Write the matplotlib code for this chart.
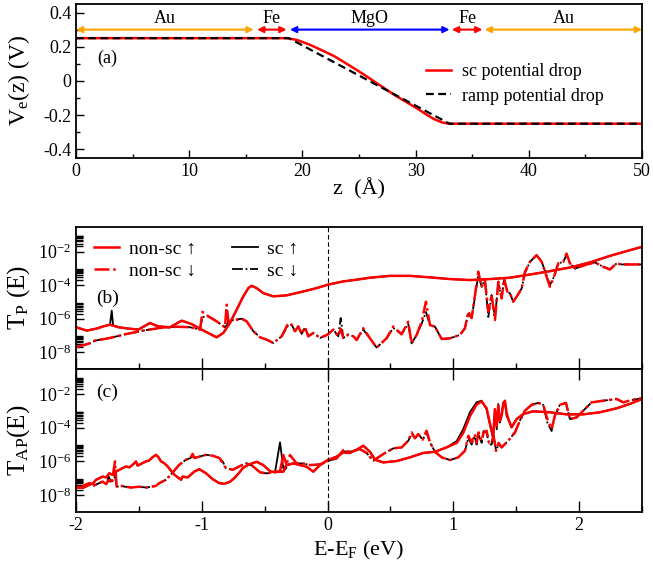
import numpy as np
import matplotlib
matplotlib.use("Agg")
import matplotlib.pyplot as plt
from matplotlib.ticker import FixedLocator, FuncFormatter, MultipleLocator

plt.rcParams['font.family'] = ['Liberation Serif', 'DejaVu Sans']
plt.rcParams['mathtext.fontset'] = 'custom'
plt.rcParams['mathtext.rm'] = 'Liberation Serif'
plt.rcParams['mathtext.it'] = 'Liberation Serif:italic'
plt.rcParams['axes.unicode_minus'] = False

# ---- panel (a): potential profile ----
z_sc = [0, 18.6, 19.5, 20.6, 21.7, 22.8, 23.8, 24.7, 25.6, 26.5, 27.4, 28.3,
        29.3, 30.2, 31.0, 31.6, 32.3, 32.9, 33.5, 50]
v_sc = [0.25, 0.25, 0.24, 0.213, 0.18, 0.145, 0.105, 0.068, 0.03, -0.01, -0.05,
        -0.089, -0.128, -0.164, -0.198, -0.222, -0.242, -0.25, -0.25, -0.25]
z_ramp = [0, 18.8, 33.0, 50]
v_ramp = [0.25, 0.25, -0.25, -0.25]

layer_names = ['Au', 'Fe', 'MgO', 'Fe', 'Au']
layer_start = [0.0, 16.0, 18.9, 33.2, 36.1]
layer_end = [15.7, 18.6, 33.0, 35.9, 50.0]
layer_colors = ['orange', 'red', 'blue', 'red', 'orange']

# ---- panel (b): T_P(E), log10 values ----
tp_up_e = [-2.00, -1.915, -1.836, -1.783, -1.730, -1.663, -1.584, -1.504, -1.412, -1.346,
           -1.253, -1.160, -1.081, -1.001, -0.935, -0.882, -0.829, -0.776, -0.723, -0.670,
           -0.630, -0.604, -0.564, -0.511, -0.431, -0.325, -0.193, -0.087, 0.000, 0.125,
           0.258, 0.337, 0.496, 0.655, 0.814, 0.973, 1.132, 1.291, 1.450, 1.609,
           1.768, 1.927, 2.086, 2.245, 2.404, 2.50]
tp_up_nsc = [-6.51, -6.71, -6.59, -6.46, -6.36, -6.51, -6.59, -6.65, -6.26, -6.46,
             -6.51, -6.12, -6.32, -6.65, -6.91, -7.11, -6.85, -6.26, -5.47, -4.67,
             -4.18, -4.04, -4.18, -4.48, -4.67, -4.61, -4.38, -4.18, -3.98, -3.78,
             -3.65, -3.56, -3.45, -3.45, -3.54, -3.64, -3.70, -3.64, -3.56, -3.37,
             -3.17, -2.95, -2.65, -2.26, -1.92, -1.72]
tp_up_sc_e = [-2.00, -1.915, -1.836, -1.783, -1.730, -1.716, -1.705, -1.663, -1.584, -1.504,
              -1.412, -1.346, -1.253, -1.160, -1.081, -1.001, -0.935, -0.882, -0.829, -0.776,
              -0.723, -0.670, -0.630, -0.604, -0.564, -0.511, -0.431, -0.325, -0.193, -0.087,
              0.000, 0.125, 0.258, 0.337, 0.496, 0.655, 0.814, 0.973, 1.132, 1.291,
              1.450, 1.609, 1.768, 1.927, 2.086, 2.245, 2.404, 2.50]
tp_up_sc = [-6.51, -6.71, -6.59, -6.46, -6.36, -5.52, -6.40, -6.51, -6.59, -6.65,
            -6.26, -6.46, -6.51, -6.12, -6.32, -6.65, -6.91, -7.11, -6.85, -6.26,
            -5.47, -4.67, -4.18, -4.04, -4.18, -4.48, -4.67, -4.61, -4.38, -4.18,
            -3.98, -3.78, -3.65, -3.56, -3.45, -3.45, -3.54, -3.64, -3.70, -3.64,
            -3.56, -3.37, -3.17, -2.95, -2.65, -2.26, -1.92, -1.72]

tp_dn_e = [-2.000, -1.902, -1.849, -1.730, -1.597, -1.465, -1.332, -1.200, -1.094, -1.014,
           -0.995, -0.948, -0.882, -0.816, -0.802, -0.789, -0.763, -0.723, -0.683, -0.643,
           -0.590, -0.537, -0.484, -0.431, -0.365, -0.312, -0.286, -0.259, -0.233, -0.206,
           -0.180, -0.153, -0.113, -0.060, 0.000, 0.046, 0.085, 0.104, 0.125, 0.165,
           0.205, 0.231, 0.284, 0.337, 0.390, 0.469, 0.522, 0.588, 0.641, 0.668,
           0.708, 0.748, 0.782, 0.814, 0.854, 0.907, 0.973, 1.052, 1.092, 1.119,
           1.145, 1.172, 1.198, 1.225, 1.251, 1.278, 1.304, 1.331, 1.357, 1.384,
           1.403, 1.429, 1.450, 1.476, 1.503, 1.543, 1.569, 1.609, 1.662, 1.702,
           1.741, 1.768, 1.800, 1.834, 1.874, 1.900, 1.927, 1.967, 2.007, 2.060,
           2.126, 2.192, 2.245, 2.298, 2.338, 2.417, 2.500]
tp_dn_nsc = [-7.70, -7.50, -7.31, -7.15, -6.91, -6.71, -6.55, -6.48, -6.51, -6.65,
             -5.60, -5.86, -6.16, -6.51, -5.17, -6.16, -6.10, -6.06, -6.00, -6.16,
             -6.75, -7.11, -7.25, -7.45, -7.05, -6.26, -6.36, -6.75, -6.46, -6.91,
             -6.51, -7.05, -6.85, -7.15, -6.95, -6.65, -7.05, -6.60, -7.15, -6.95,
             -7.05, -7.27, -6.57, -7.17, -7.72, -7.17, -6.47, -6.93, -6.18, -7.47,
             -6.97, -6.18, -4.99, -6.38, -6.48, -7.21, -7.17, -6.97, -6.57, -5.58,
             -5.97, -4.59, -3.20, -4.09, -3.70, -5.58, -4.59, -6.08, -3.80, -4.79,
             -3.60, -4.39, -4.49, -4.99, -4.69, -4.20, -3.20, -2.61, -2.22, -2.61,
             -3.50, -4.10, -3.50, -2.71, -2.61, -2.12, -2.71, -3.01, -2.91, -2.77,
             -2.65, -2.91, -3.07, -2.71, -2.77, -2.77, -2.77]
tp_dn_sc = [-7.70, -7.50, -7.31, -7.15, -6.91, -6.71, -6.55, -6.48, -6.51, -6.65,
            -5.90, -5.86, -6.16, -6.51, -6.40, -6.16, -6.10, -6.06, -6.00, -6.16,
            -6.75, -7.11, -7.25, -7.45, -7.05, -6.40, -6.36, -6.75, -6.46, -6.91,
            -6.51, -7.05, -6.85, -7.15, -6.95, -6.65, -7.05, -5.96, -7.15, -6.95,
            -7.05, -7.27, -6.65, -7.17, -7.72, -7.17, -6.55, -6.93, -6.30, -7.47,
            -6.97, -6.30, -5.60, -6.38, -6.48, -7.21, -7.17, -6.97, -6.57, -5.70,
            -5.97, -4.70, -3.40, -4.09, -3.70, -5.90, -4.59, -5.90, -3.90, -4.79,
            -3.70, -4.39, -4.49, -4.99, -4.69, -4.20, -3.30, -2.61, -2.22, -2.61,
            -3.40, -4.00, -3.50, -2.71, -2.61, -2.20, -2.71, -3.01, -2.91, -2.77,
            -2.65, -2.91, -3.07, -2.71, -2.77, -2.77, -2.77]

# ---- panel (c): T_AP(E), log10 values ----
tap_up_e = [-2.000, -1.960, -1.930, -1.894, -1.870, -1.841, -1.815, -1.788, -1.760, -1.735,
            -1.710, -1.687, -1.680, -1.656, -1.630, -1.603, -1.575, -1.550, -1.523, -1.510,
            -1.497, -1.470, -1.444, -1.420, -1.391, -1.364, -1.345, -1.324, -1.300, -1.271,
            -1.245, -1.218, -1.190, -1.165, -1.152, -1.112, -1.059, -1.020, -0.967, -0.914,
            -0.861, -0.821, -0.775, -0.741, -0.700, -0.675, -0.630, -0.596, -0.564, -0.511,
            -0.458, -0.418, -0.378, -0.352, -0.325, -0.272, -0.219, -0.166, -0.113, -0.060,
            0.000, 0.072, 0.125, 0.178, 0.231, 0.284, 0.337, 0.377, 0.443, 0.549,
            0.655, 0.761, 0.854, 0.946, 1.026, 1.078, 1.131, 1.184, 1.224, 1.264,
            1.290, 1.317, 1.330, 1.345, 1.357, 1.370, 1.384, 1.397, 1.410, 1.423,
            1.437, 1.463, 1.503, 1.556, 1.635, 1.768, 1.900, 2.033, 2.165, 2.298,
            2.404, 2.500]
tap_up_nsc = [-7.50, -7.55, -7.40, -7.29, -7.35, -7.09, -7.00, -6.90, -6.95, -6.70,
              -6.80, -6.55, -6.60, -6.50, -6.40, -6.30, -6.35, -6.20, -6.00, -6.25,
              -6.20, -6.10, -6.00, -5.95, -5.75, -5.61, -5.75, -6.00, -6.10, -6.30,
              -6.55, -6.79, -6.95, -7.09, -6.90, -6.95, -6.60, -6.46, -6.70, -7.05,
              -7.29, -7.33, -7.20, -6.99, -6.65, -6.40, -6.20, -6.11, -6.02, -6.22,
              -6.57, -6.65, -6.57, -5.62, -6.22, -6.12, -6.22, -6.32, -6.61, -6.22,
              -5.92, -5.72, -5.47, -5.50, -5.31, -5.07, -5.43, -5.90, -6.06, -5.98,
              -5.76, -5.50, -5.43, -5.17, -4.91, -4.32, -3.33, -2.64, -2.44, -2.84,
              -3.72, -4.51, -2.90, -3.90, -2.69, -3.60, -3.29, -2.60, -2.40, -3.10,
              -3.49, -3.98, -3.49, -3.19, -3.03, -3.09, -3.21, -3.21, -3.09, -2.85,
              -2.59, -2.30]
tap_up_sc = [-7.50, -7.55, -7.40, -7.29, -7.35, -7.09, -7.00, -6.90, -6.95, -6.70,
             -6.80, -6.70, -6.60, -6.50, -6.40, -6.30, -6.35, -6.20, -6.05, -6.25,
             -6.20, -6.10, -6.00, -5.95, -5.75, -5.61, -5.75, -6.00, -6.10, -6.30,
             -6.55, -6.79, -6.95, -7.09, -6.90, -6.95, -6.60, -6.46, -6.70, -7.05,
             -7.29, -7.33, -7.20, -6.99, -6.65, -6.40, -6.20, -6.11, -6.02, -6.22,
             -6.57, -6.65, -4.87, -6.40, -6.22, -6.12, -6.22, -6.32, -6.61, -6.22,
             -5.92, -5.72, -5.47, -5.50, -5.31, -5.07, -5.43, -5.90, -6.06, -5.98,
             -5.76, -5.50, -5.43, -5.17, -4.80, -4.10, -3.10, -2.50, -2.40, -2.90,
             -3.80, -4.70, -3.00, -4.10, -2.60, -3.70, -3.20, -2.50, -2.45, -3.30,
             -3.49, -3.98, -3.49, -3.19, -3.03, -3.09, -3.21, -3.21, -3.09, -2.85,
             -2.59, -2.30]

tap_dn_e = [-2.000, -1.942, -1.894, -1.862, -1.820, -1.788, -1.760, -1.740, -1.717, -1.690,
            -1.677, -1.640, -1.610, -1.560, -1.500, -1.440, -1.400, -1.364, -1.338, -1.285,
            -1.232, -1.179, -1.126, -1.090, -1.073, -1.059, -0.967, -0.914, -0.860, -0.834,
            -0.808, -0.755, -0.702, -0.649, -0.600, -0.537, -0.484, -0.418, -0.352, -0.299,
            -0.246, -0.193, -0.140, -0.060, 0.000, 0.072, 0.125, 0.178, 0.257, 0.310,
            0.363, 0.443, 0.522, 0.589, 0.642, 0.668, 0.695, 0.721, 0.756, 0.787,
            0.814, 0.854, 0.907, 0.973, 1.039, 1.092, 1.119, 1.145, 1.170, 1.185,
            1.200, 1.225, 1.240, 1.264, 1.285, 1.304, 1.320, 1.339, 1.360, 1.384,
            1.437, 1.490, 1.529, 1.569, 1.622, 1.675, 1.715, 1.747, 1.781, 1.807,
            1.847, 1.895, 1.927, 1.980, 2.033, 2.099, 2.192, 2.298, 2.351, 2.417,
            2.500]
tap_dn_nsc = [-7.55, -7.56, -7.39, -7.45, -7.30, -7.20, -7.35, -7.10, -7.30, -6.00,
              -7.50, -7.45, -7.50, -7.55, -7.50, -7.55, -7.50, -7.45, -7.29, -7.09,
              -6.66, -6.20, -5.90, -5.80, -5.55, -5.80, -5.61, -5.66, -5.80, -6.11,
              -6.40, -6.50, -6.30, -6.11, -6.25, -6.65, -6.71, -6.61, -6.61, -5.62,
              -6.12, -6.12, -6.22, -6.18, -5.98, -5.82, -5.33, -5.43, -5.27, -5.50,
              -5.96, -5.56, -5.23, -5.17, -4.77, -4.28, -4.63, -4.38, -4.71, -4.18,
              -4.87, -5.43, -5.76, -5.92, -5.76, -5.37, -4.48, -4.87, -4.40, -4.90,
              -4.28, -4.77, -4.30, -4.18, -4.90, -4.87, -4.50, -5.37, -4.90, -5.17,
              -4.77, -4.28, -3.58, -2.99, -2.65, -2.53, -2.65, -3.49, -4.08, -3.29,
              -2.65, -2.53, -3.49, -3.39, -2.99, -2.50, -2.40, -2.30, -2.50, -2.36,
              -2.26]
tap_dn_sc = [-7.55, -7.56, -7.39, -7.45, -7.30, -7.20, -7.35, -6.90, -7.30, -6.85,
             -7.50, -7.45, -7.50, -7.55, -7.50, -7.55, -7.50, -7.45, -7.29, -7.09,
             -6.66, -6.20, -5.90, -5.80, -5.70, -5.80, -5.61, -5.66, -5.80, -6.00,
             -6.40, -6.50, -6.30, -6.11, -6.25, -6.65, -6.71, -6.61, -6.61, -6.10,
             -6.12, -6.12, -6.22, -6.18, -5.98, -5.82, -5.40, -5.43, -5.27, -5.50,
             -5.96, -5.56, -5.23, -5.17, -4.77, -4.40, -4.63, -4.38, -4.71, -4.30,
             -4.87, -5.43, -5.76, -5.92, -5.76, -5.37, -4.60, -5.00, -4.50, -5.00,
             -4.40, -4.90, -4.20, -4.30, -5.00, -5.00, -4.40, -5.37, -5.00, -5.17,
             -4.77, -4.28, -3.58, -2.99, -2.65, -2.53, -2.65, -3.70, -4.20, -3.29,
             -2.65, -2.53, -3.49, -3.39, -2.99, -2.50, -2.40, -2.30, -2.50, -2.36,
             -2.26]

log_major = [1e-8, 1e-6, 1e-4, 1e-2]
log_minor = [k * 10.0 ** d for d in (-8, -6, -4, -2) for k in range(2, 10)]

fig = plt.figure(figsize=(6.53, 5.64), dpi=100)
ax_a = fig.add_axes([0.1164, 0.720, 0.8668, 0.273])
ax_b = fig.add_axes([0.1164, 0.3457, 0.8668, 0.2523])
ax_c = fig.add_axes([0.1164, 0.0922, 0.8668, 0.2535])

# panel (a)
ax_a.plot(z_sc, v_sc, color='red', lw=1.8, label='sc potential drop')
ax_a.plot(z_ramp, v_ramp, color='black', lw=1.6, ls=(0, (3.5, 2)),
          label='ramp potential drop')
for name, s, e, c in zip(layer_names, layer_start, layer_end, layer_colors):
    ax_a.annotate('', xy=(e, 0.3), xytext=(s, 0.3),
                  arrowprops=dict(arrowstyle='<|-|>', color=c, lw=1.5,
                                  mutation_scale=9, shrinkA=0, shrinkB=0))
    ax_a.text((s + e) / 2, 0.365, name, ha='center', va='center', fontsize=13)
ax_a.set_xlim(0, 50)
ax_a.set_ylim(-0.45, 0.45)
ax_a.xaxis.set_major_locator(MultipleLocator(10))
ax_a.xaxis.set_minor_locator(MultipleLocator(5))
ax_a.yaxis.set_major_locator(MultipleLocator(0.2))
ax_a.yaxis.set_minor_locator(MultipleLocator(0.1))
ax_a.yaxis.set_major_formatter(FuncFormatter(lambda v, p: '0' if abs(v) < 1e-9 else '%.1f' % v))
ax_a.text(0.037, 0.645, '(a)', transform=ax_a.transAxes, fontsize=13, va='center')
ax_a.set_ylabel(r'V$_{\rm e}$(z) (V)', fontsize=17)
ax_a.set_xlabel('z  (Å)', fontsize=16)
ax_a.yaxis.set_label_coords(-0.077, 0.5)
ax_a.xaxis.set_label_coords(0.5, -0.13)
ax_a.legend(loc='upper left', bbox_to_anchor=(0.59, 0.72), frameon=False,
            fontsize=13, handlelength=1.4, handletextpad=0.6, labelspacing=0.4)
ax_a.tick_params(which='both', direction='in', labelsize=13, width=1.0)
ax_a.tick_params(which='major', length=6)
ax_a.tick_params(which='minor', length=3)

dash_dot = (0, (6, 1.5, 1, 1.5))

# panel (b)
ax_b.plot(tp_up_sc_e, 10 ** np.array(tp_up_sc), color='black', lw=1.3, label='sc \u2191')
ax_b.plot(tp_dn_e, 10 ** np.array(tp_dn_sc), color='black', lw=1.3, ls=dash_dot, label='sc \u2193')
ax_b.plot(tp_up_e, 10 ** np.array(tp_up_nsc), color='red', lw=1.8, label='non-sc \u2191')
ax_b.plot(tp_dn_e, 10 ** np.array(tp_dn_nsc), color='red', lw=1.8, ls=dash_dot, label='non-sc \u2193')

# panel (c)
ax_c.plot(tap_up_e, 10 ** np.array(tap_up_sc), color='black', lw=1.3)
ax_c.plot(tap_dn_e, 10 ** np.array(tap_dn_sc), color='black', lw=1.3, ls=dash_dot)
ax_c.plot(tap_up_e, 10 ** np.array(tap_up_nsc), color='red', lw=1.8)
ax_c.plot(tap_dn_e, 10 ** np.array(tap_dn_nsc), color='red', lw=1.8, ls=dash_dot)

for ax in (ax_b, ax_c):
    ax.set_yscale('log')
    ax.set_ylim(1e-9, 3e-1)
    ax.set_xlim(-2, 2.5)
    ax.axvline(0, color='black', lw=0.8, ls=(0, (4, 2.5)))
    ax.yaxis.set_major_locator(FixedLocator(log_major))
    ax.yaxis.set_minor_locator(FixedLocator(log_minor))
    ax.yaxis.set_major_formatter(FuncFormatter(lambda v, p: r'$10^{%d}$' % round(np.log10(v))))
    ax.yaxis.set_minor_formatter(FuncFormatter(lambda v, p: ''))
    ax.xaxis.set_major_locator(MultipleLocator(1))
    ax.xaxis.set_minor_locator(MultipleLocator(0.5))
    ax.tick_params(which='both', direction='in', labelsize=13, width=1.0)
    ax.tick_params(axis='y', which='major', length=6)
    ax.tick_params(axis='y', which='minor', length=5)
    ax.tick_params(axis='x', which='major', length=8)
    ax.tick_params(axis='x', which='minor', length=4)
    ax.yaxis.set_label_coords(-0.077, 0.5)

ax_b.tick_params(axis='x', labelbottom=False)
ax_c.tick_params(axis='x', top=True)

handles, labels = ax_b.get_legend_handles_labels()
order = [2, 3, 0, 1]
ax_b.legend([handles[i] for i in order], [labels[i] for i in order],
            loc='upper left', bbox_to_anchor=(0.0, 1.03), ncol=2, frameon=False,
            fontsize=14, handlelength=1.3, handletextpad=0.5, columnspacing=1.9,
            labelspacing=0.25)

ax_b.text(0.035, 0.5, '(b)', transform=ax_b.transAxes, fontsize=14, va='center')
ax_c.text(0.035, 0.84, '(c)', transform=ax_c.transAxes, fontsize=14, va='center')
ax_b.set_ylabel(r'T$_{\rm P}$ (E)', fontsize=18)
ax_c.set_ylabel(r'T$_{\rm AP}$(E)', fontsize=18)
ax_c.set_xlabel(r'E-E$_{\rm F}$ (eV)', fontsize=16)
ax_c.xaxis.set_label_coords(0.5, -0.19)

for ax in (ax_a, ax_b, ax_c):
    for sp in ax.spines.values():
        sp.set_linewidth(1.3)

fig.savefig('out.png', dpi=100)
